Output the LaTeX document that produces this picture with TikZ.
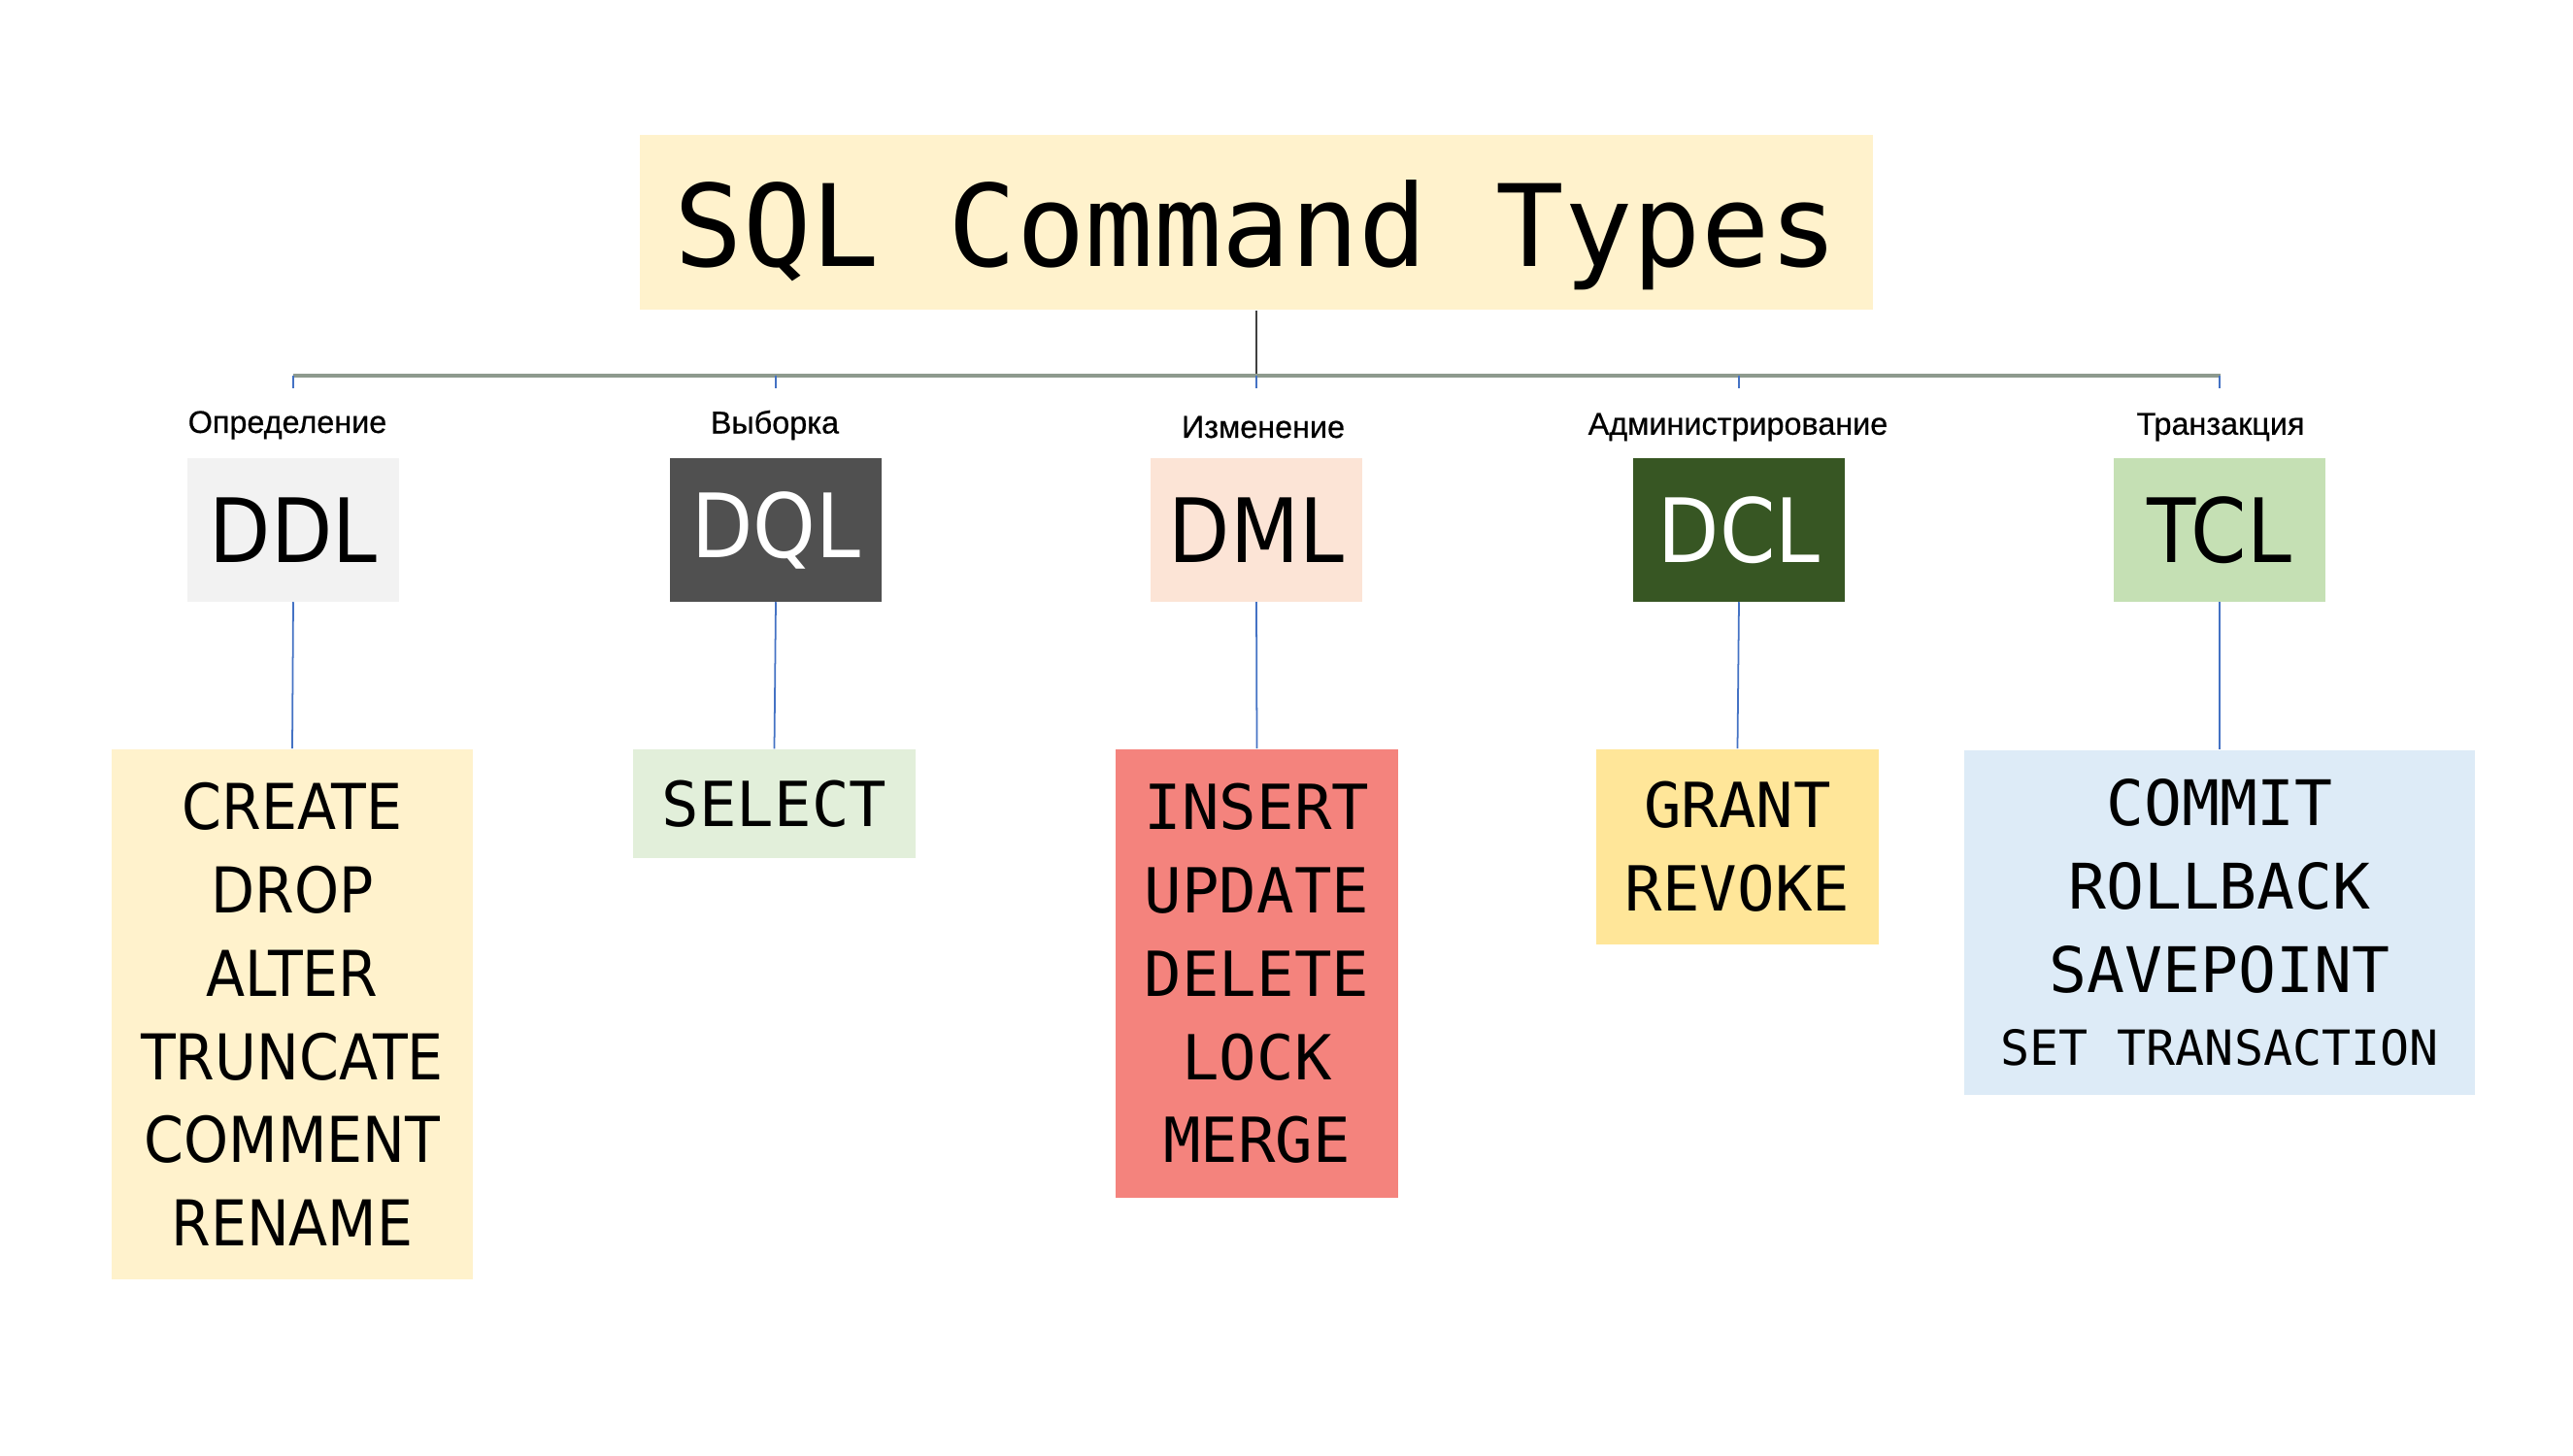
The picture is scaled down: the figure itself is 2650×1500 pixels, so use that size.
\documentclass[tikz,border=0pt]{standalone}
\usepackage{fontspec}
\setmainfont{Liberation Sans}
\newfontfamily\monofont{DejaVu Sans Mono}
\newfontfamily\condfont{DejaVu Sans Condensed}
\newfontfamily\labelfont[FakeBold=0.6]{Liberation Sans}
\definecolor{titlefill}{HTML}{FFF2CC}
\definecolor{ddlfill}{HTML}{F2F2F2}
\definecolor{dqlfill}{HTML}{505050}
\definecolor{dmlfill}{HTML}{FCE4D6}
\definecolor{dclfill}{HTML}{375623}
\definecolor{tclfill}{HTML}{C5E0B4}
\definecolor{ddlitems}{HTML}{FFF2CC}
\definecolor{dqlitems}{HTML}{E2EFDA}
\definecolor{dmlitems}{HTML}{F4837D}
\definecolor{dclitems}{HTML}{FFE699}
\definecolor{tclitems}{HTML}{DDEBF7}
\definecolor{hlinecol}{HTML}{8E9A8E}
\definecolor{conncol}{HTML}{4472C4}
\begin{document}
\begin{tikzpicture}[x=0.01cm,y=-0.01cm,
  typebox/.style={rectangle, minimum width=2.18cm, minimum height=1.47cm, inner sep=0pt,
    font=\condfont\fontsize{26}{30}\selectfont},
  itembox/.style={rectangle, inner sep=0pt, align=center},
  catlabel/.style={font=\labelfont\fontsize{9.2}{10}\selectfont, inner sep=0pt},
  conn/.style={draw=conncol, line width=0.5pt},
  tick/.style={draw=conncol, line width=0.5pt}
]
\useasboundingbox[fill=white] (0,0) rectangle (2650,1500);

% title
\node[rectangle, fill=titlefill, minimum width=12.69cm, minimum height=1.80cm, inner sep=0pt,
  font=\monofont\fontsize{33.3}{38}\selectfont] (title) at (1294,229)
  {\raisebox{-12.8pt}[0pt][0pt]{SQL Command Types}};

% category boxes
\node[typebox, fill=ddlfill] (ddl) at (302,546) {DDL};
\node[typebox, fill=dqlfill, text=white] (dql) at (799,546) {DQL};
\node[typebox, fill=dmlfill] (dml) at (1294,546) {DML};
\node[typebox, fill=dclfill, text=white] (dcl) at (1791,546) {DCL};
\node[typebox, fill=tclfill] (tcl) at (2286,546) {TCL};

% labels
\node[catlabel] (lddl) at (296,438) {Определение};
\node[catlabel] (ldql) at (798,438) {Выборка};
\node[catlabel] (ldml) at (1301,440) {Изменение};
\node[catlabel] (ldcl) at (1790,440) {Администрирование};
\node[catlabel] (ltcl) at (2287,440) {Транзакция};

% item boxes
\node[itembox, fill=ddlitems, minimum width=3.72cm, minimum height=5.46cm,
  font=\condfont\fontsize{18.5}{24.4}\selectfont] (iddl) at (301,1045)
  {CREATE\\DROP\\ALTER\\TRUNCATE\\COMMENT\\RENAME};
\node[itembox, fill=dqlitems, minimum width=2.91cm, minimum height=1.12cm,
  font=\monofont\fontsize{18.2}{24.4}\selectfont] (idql) at (797.5,828) {SELECT};
\node[itembox, fill=dmlitems, minimum width=2.91cm, minimum height=4.62cm,
  font=\monofont\fontsize{18.2}{24.4}\selectfont] (idml) at (1294.5,1003)
  {INSERT\\UPDATE\\DELETE\\LOCK\\MERGE};
\node[itembox, fill=dclitems, minimum width=2.91cm, minimum height=2.01cm,
  font=\monofont\fontsize{18.2}{24.4}\selectfont] (idcl) at (1789.5,872.5)
  {GRANT\\REVOKE};
\node[itembox, fill=tclitems, minimum width=5.26cm, minimum height=3.55cm,
  font=\monofont\fontsize{18.4}{24.4}\selectfont] (itcl) at (2286,950.5)
  {COMMIT\\ROLLBACK\\SAVEPOINT\\[-3pt]{\fontsize{14.2}{16}\selectfont SET TRANSACTION}};

% connectors
\coordinate (hl) at (302,387);
\coordinate (hr) at (2287,387);
\draw[draw=black!75, line width=0.6pt] (title.south) -- (title.south |- hl);
\draw[draw=hlinecol, line width=1.2pt] (hl) -- (hr);
\foreach \n in {ddl,dql,dml,dcl,tcl}{
  \draw[tick] (hl -| \n) -- ++(0,13);
  \draw[conn] (\n.south) -- (i\n.north);
}
\end{tikzpicture}
\end{document}
